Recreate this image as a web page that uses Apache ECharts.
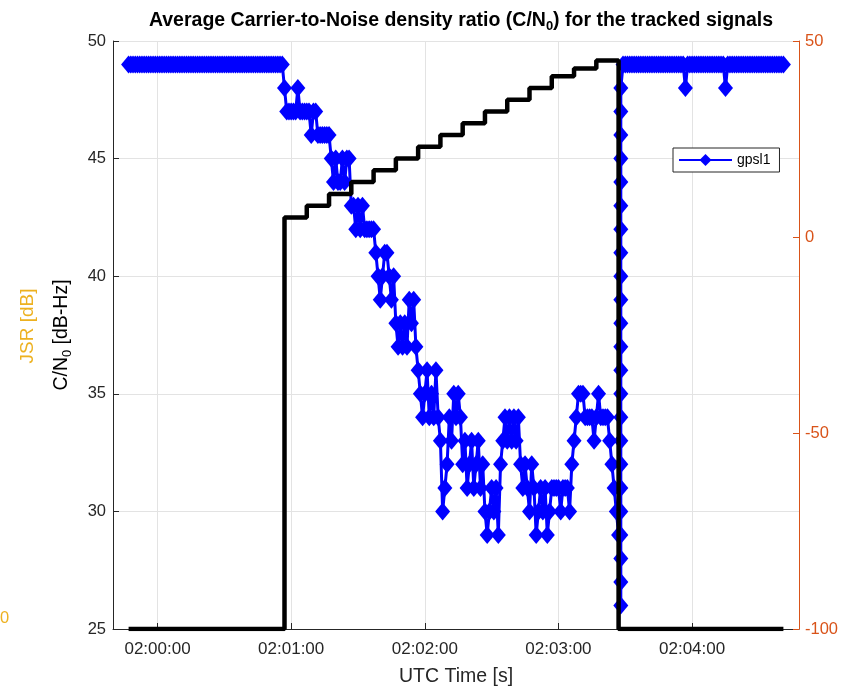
<!DOCTYPE html>
<html>
<head>
<meta charset="utf-8">
<script src="https://cdn.jsdelivr.net/npm/echarts@6/dist/echarts.min.js"></script>
<style>
html,body{margin:0;padding:0;background:#fff;overflow:hidden;}
#chart{width:845px;height:692px;}
</style>
</head>
<body>
<div id="chart"></div>
<script>
// ---- DATA (seconds relative to 02:00:00 UTC) ----
const xTickLabels = ['02:00:00', '02:01:00', '02:02:00', '02:03:00', '02:04:00'];
const leftTicks = [25, 30, 35, 40, 45, 50];
const rightTicks = [-100, -50, 0, 50];

// C/N0 of gpsl1, one sample per second starting at -13 s (01:59:47)
const cnoStartSec = -13;
const cnoBefore = [
  49,49,49,49,49,49,49,49,49,49,
  49,49,49,49,49,49,49,49,49,49,
  49,49,49,49,49,49,49,49,49,49,
  49,49,49,49,49,49,49,49,49,49,
  49,49,49,49,49,49,49,49,49,49,
  49,49,49,49,49,49,49,49,49,49,
  49,49,49,49,49,49,49,49,49,49,
  48,47,47,47,47,47,48,47,47,47,
  47,47,46,47,47,46,46,46,46,46,
  46,45,44,45,44,44,45,44,45,45,
  43,43,42,43,42,43,42,42,42,42,
  42,41,40,39,40,41,41,40,39,40,
  38,37,38,37,38,37,39,38,39,37,
  36,35,34,35,36,34,35,34,36,34,
  33,30,31,32,34,33,35,34,35,34,
  32,33,31,32,33,31,32,33,31,32,
  30,29,30,31,30,31,29,32,33,34,
  33,34,33,34,33,34,32,31,32,31,
  30,32,31,29,30,31,30,31,29,30,
  31,31,31,31,30,31,31,31,30,32,
  33,34,35,35,35,34,34,34,34,33,
  34,35,34,34,34,34,33,32,31,30,
  29
];
// burst of samples when tracking recovers (at 208 s)
const rampSec = 208;
const rampVal = [26,27,28,29,30,31,32,33,34,35,36,37,38,39,40,41,42,43,44,45,46,47,48];
// samples from 209 s (02:03:29) to 281 s (02:04:41)
const cnoAfterStartSec = 209;
const cnoAfter = [
  49,49,49,49,49,49,49,49,49,49,
  49,49,49,49,49,49,49,49,49,49,
  49,49,49,49,49,49,49,49,48,49,
  49,49,49,49,49,49,49,49,49,49,
  49,49,49,49,49,49,48,49,49,49,
  49,49,49,49,49,49,49,49,49,49,
  49,49,49,49,49,49,49,49,49,49,
  49,49,49
];

// JSR staircase (right axis)
const jsrSec = [-13, 57, 67, 77, 87, 97, 107, 117, 127, 137, 147, 157, 167, 177, 187, 197, 207, 281];
const jsrVal = [-100, 5, 8, 11, 14, 17, 20, 23, 26, 29, 32, 35, 38, 41, 43, 45, -100, -100];

// ---- BUILD ----
const base = new Date(2020, 0, 1, 2, 0, 0).getTime();
const T = s => base + s * 1000;
const cnoData = [];
cnoBefore.forEach((v, i) => cnoData.push([T(cnoStartSec + i), v]));
rampVal.forEach(v => cnoData.push([T(rampSec), v]));
cnoAfter.forEach((v, i) => cnoData.push([T(cnoAfterStartSec + i), v]));
const jsrData = jsrSec.map((s, i) => [T(s), jsrVal[i]]);

const FONT = '"Liberation Sans", Arial, Helvetica, sans-serif';
const DARK = '#262626';
const ORANGE = '#D95319';
const YEL = '#EDB120';
const GRID = '#e3e3e3';
const pad = n => String(n).padStart(2, '0');

const chart = echarts.init(document.getElementById('chart'), null, {renderer: 'canvas'});
chart.setOption({
  animation: false,
  backgroundColor: '#fff',
  textStyle: {fontFamily: FONT},
  title: {
    text: 'Average Carrier-to-Noise density ratio (C/N{sub|0}) for the tracked signals',
    left: 456, top: 3, textAlign: 'center',
    textStyle: {
      fontFamily: FONT, fontSize: 19.5, fontWeight: 'bold', color: '#000',
      rich: {sub: {fontFamily: FONT, fontSize: 13, fontWeight: 'bold', color: '#000', padding: [12, 0, 0, 0]}}
    }
  },
  grid: {left: 113, right: 46, top: 41, bottom: 55, containLabel: false},
  legend: {
    data: ['gpsl1'],
    left: 673, top: 148,
    orient: 'vertical',
    padding: [5, 9, 5, 5],
    itemWidth: 53, itemHeight: 15,
    borderColor: DARK, borderWidth: 1, backgroundColor: '#fff',
    textStyle: {fontFamily: FONT, fontSize: 14, color: '#000'}
  },
  xAxis: {
    type: 'time',
    min: T(-20), max: T(288),
    minInterval: 60000, maxInterval: 60000,
    name: 'UTC Time [s]', nameLocation: 'middle', nameGap: 38,
    nameTextStyle: {fontFamily: FONT, fontSize: 19.5, color: DARK},
    axisLine: {show: true, onZero: false, lineStyle: {color: DARK, width: 1}},
    axisTick: {show: true, inside: true, length: 6, lineStyle: {color: DARK}},
    axisLabel: {
      fontFamily: FONT, fontSize: 17, color: DARK, margin: 12,
      formatter: v => { const d = new Date(v); return pad(d.getHours()) + ':' + pad(d.getMinutes()) + ':' + pad(d.getSeconds()); }
    },
    splitLine: {show: true, lineStyle: {color: GRID, width: 1}}
  },
  yAxis: [
    {
      type: 'value', position: 'left',
      min: leftTicks[0], max: leftTicks[leftTicks.length - 1], interval: 5,
      name: 'C/N{sub|0} [dB-Hz]', nameLocation: 'middle', nameGap: 39, nameRotate: 90,
      nameTextStyle: {fontFamily: FONT, fontSize: 19.5, color: '#000',
        rich: {sub: {fontFamily: FONT, fontSize: 13, color: '#000', padding: [12, 0, 0, 0]}}},
      axisLine: {show: true, onZero: false, lineStyle: {color: DARK, width: 1}},
      axisTick: {show: true, inside: true, length: 6, lineStyle: {color: DARK}},
      axisLabel: {fontFamily: FONT, fontSize: 16.5, color: DARK, margin: 7},
      splitLine: {show: true, lineStyle: {color: GRID, width: 1}}
    },
    {
      type: 'value', position: 'right',
      min: rightTicks[0], max: rightTicks[rightTicks.length - 1], interval: 50,
      axisLine: {show: true, onZero: false, lineStyle: {color: ORANGE, width: 1}},
      axisTick: {show: true, inside: true, length: 6, lineStyle: {color: ORANGE}},
      axisLabel: {fontFamily: FONT, fontSize: 16.5, color: ORANGE, margin: 6},
      splitLine: {show: false}
    }
  ],
  graphic: [
    {type: 'text', x: 28, y: 326, rotation: Math.PI / 2,
     style: {text: 'JSR [dB]', fill: YEL, font: '19px ' + FONT, align: 'center', verticalAlign: 'middle'}},
    {type: 'text', x: 0, y: 618,
     style: {text: '0', fill: YEL, font: '16.5px ' + FONT, align: 'left', verticalAlign: 'middle'}}
  ],
  series: [
    {
      name: 'gpsl1', type: 'line', yAxisIndex: 0,
      data: cnoData,
      symbol: 'diamond', symbolSize: [15, 18], showSymbol: true, showAllSymbol: true,
      sampling: null,
      lineStyle: {color: '#0000ff', width: 3},
      itemStyle: {color: '#0000ff', borderWidth: 0},
      z: 2
    },
    {
      name: 'JSR', type: 'line', yAxisIndex: 1, step: 'end',
      data: jsrData, showSymbol: false, symbol: 'none',
      lineStyle: {color: '#000', width: 4.5},
      z: 3
    }
  ]
});
</script>
</body>
</html>
